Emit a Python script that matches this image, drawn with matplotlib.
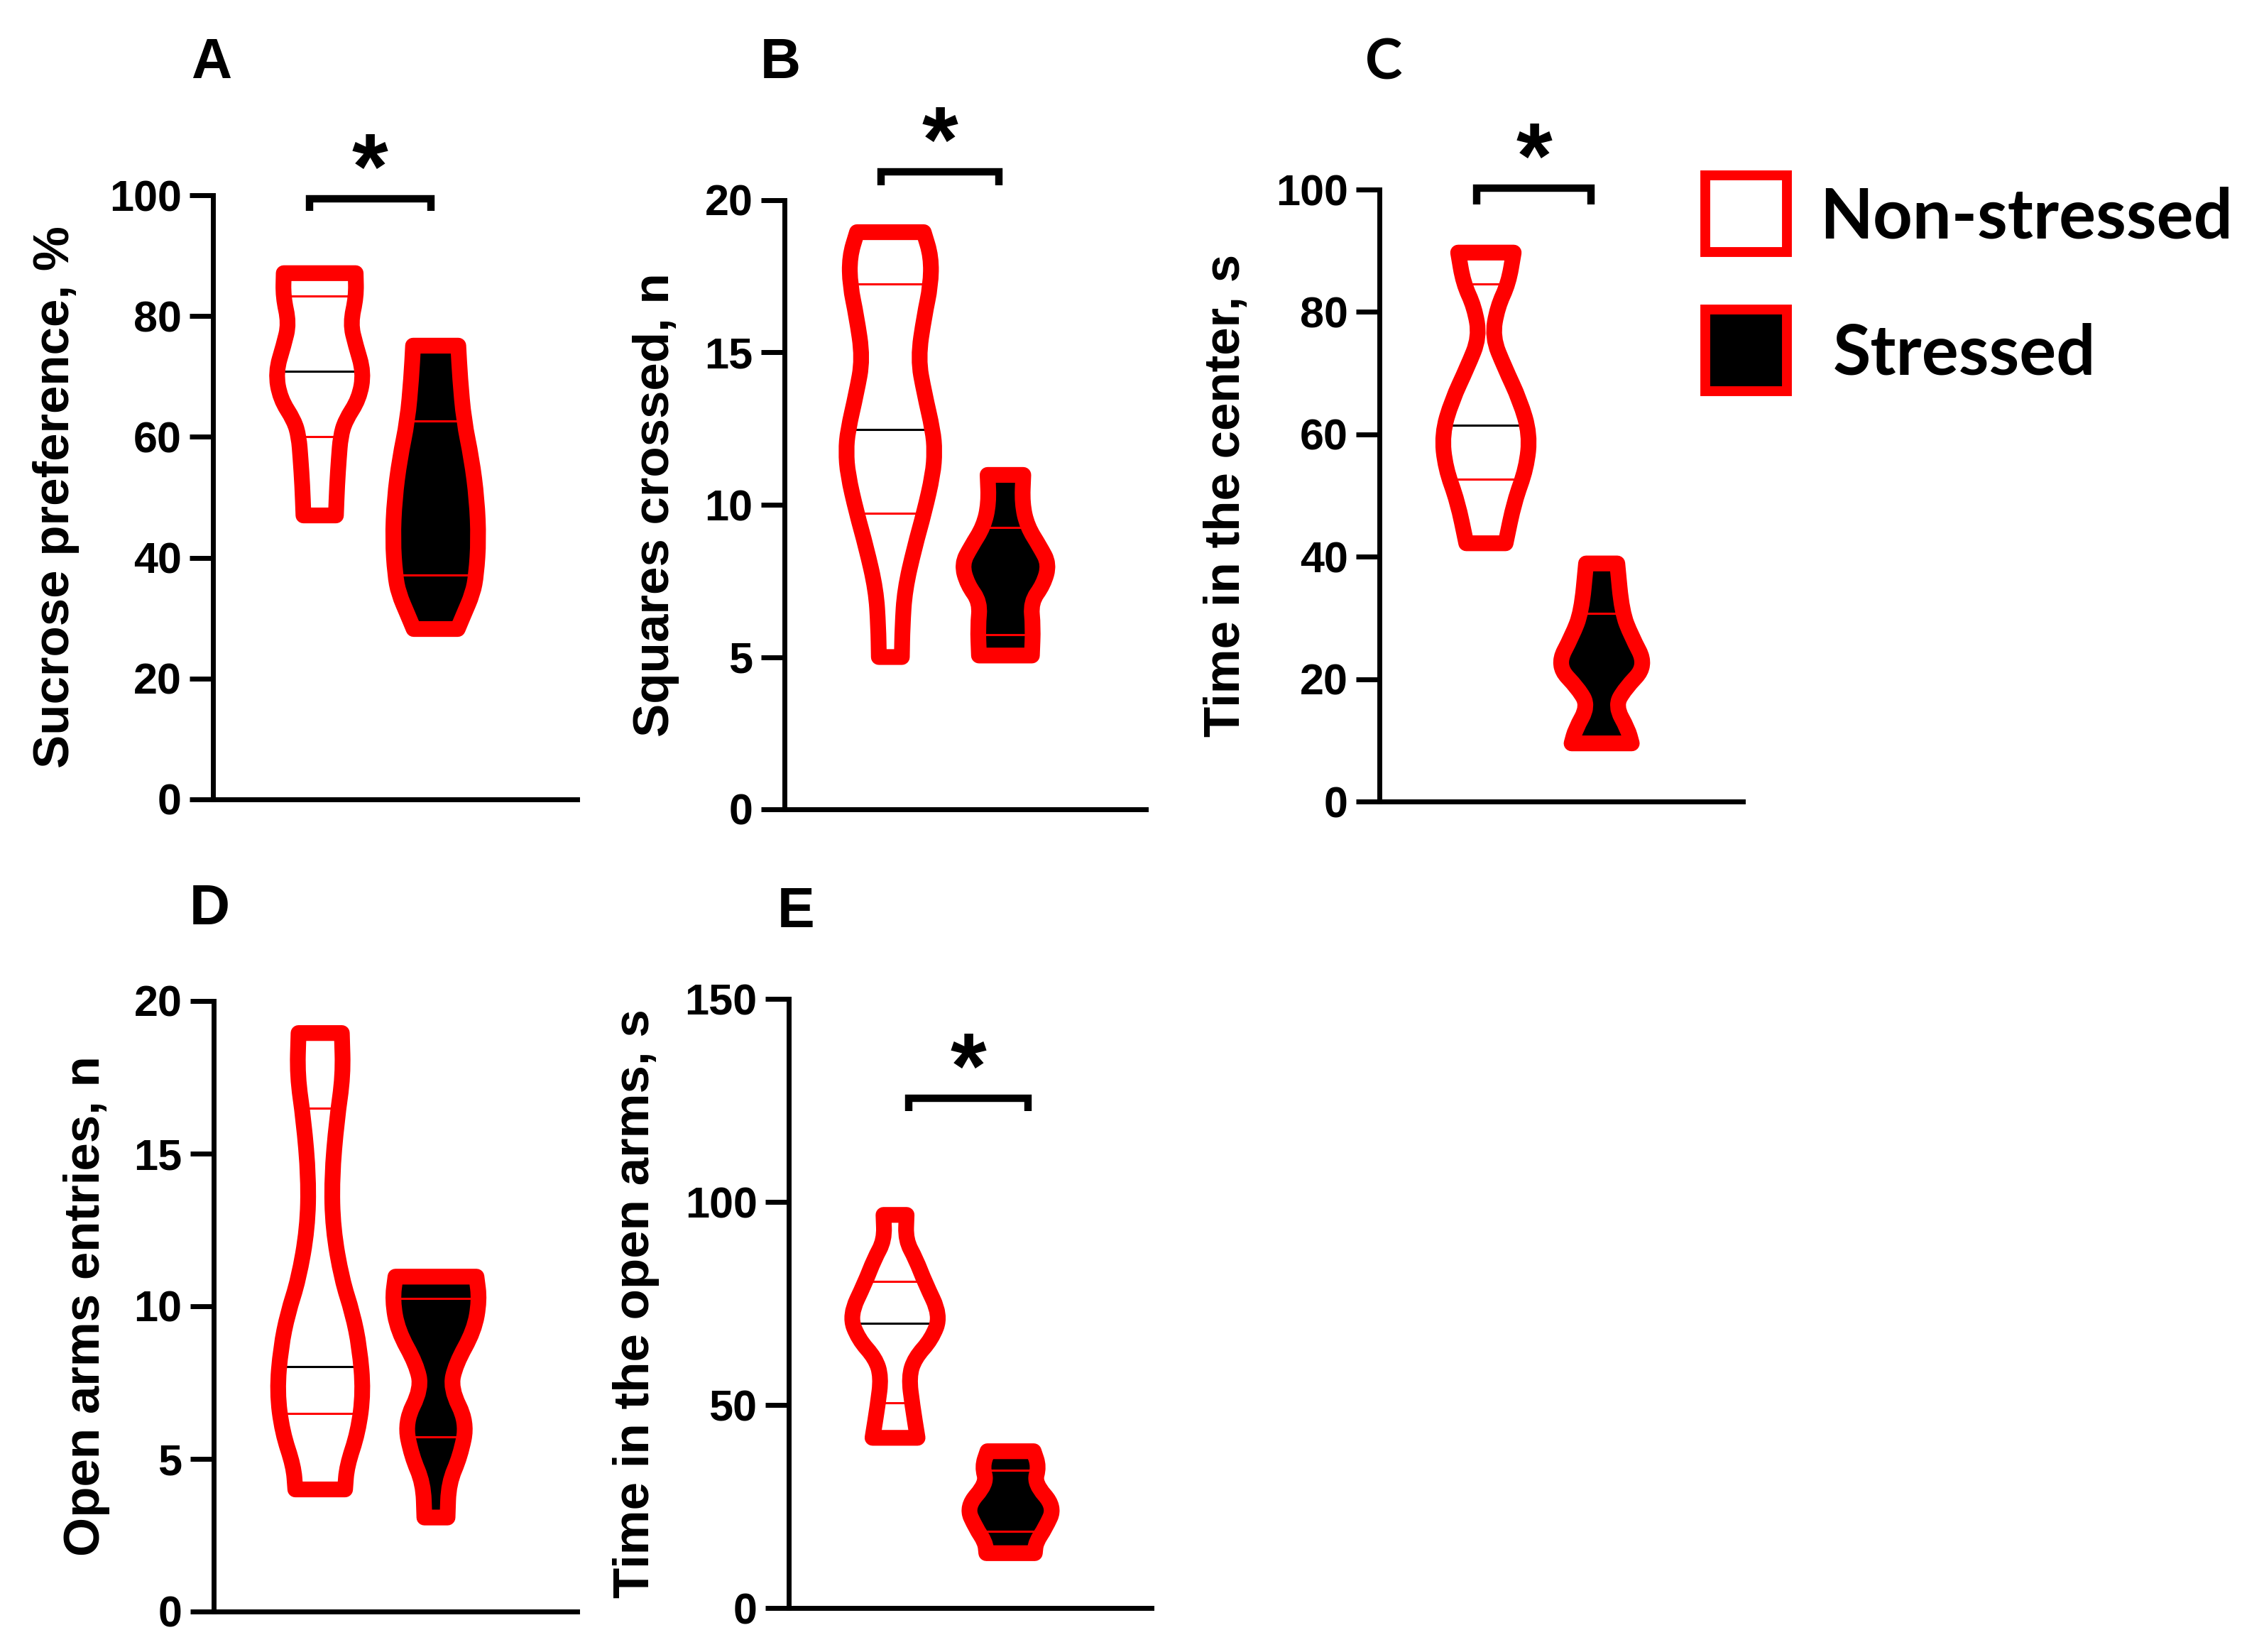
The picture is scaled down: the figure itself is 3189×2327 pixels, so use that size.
import numpy as np
import matplotlib
matplotlib.use("Agg")
import matplotlib.pyplot as plt
from matplotlib.patches import PathPatch, Rectangle
from matplotlib.path import Path

W, H = 3189, 2327
RED = "#ff0000"

# ---- data ----
# violin profiles: value levels (bottom -> top) and half widths (x units)
a_ns_y = [47.0, 52.0, 56.4, 60.0, 62.7, 66.3, 70.7, 75.2, 78.8, 83.2, 87.1]
a_ns_w = [0.14, 0.15, 0.165, 0.18, 0.22, 0.34, 0.38, 0.31, 0.265, 0.315, 0.31]
a_s_y = [28.2, 30.5, 34.1, 37.2, 43.0, 49.7, 56.4, 62.7, 69.8, 75.1]
a_s_w = [0.19, 0.24, 0.32, 0.35, 0.37, 0.355, 0.31, 0.243, 0.21, 0.195]

b_ns_y = [5.0, 6.0, 7.2, 8.6, 9.76, 11.0, 11.76, 12.43, 13.67, 14.8, 16.2, 17.2, 18.14, 18.95]
b_ns_w = [0.10, 0.105, 0.125, 0.21, 0.295, 0.37, 0.385, 0.37, 0.295, 0.24, 0.295, 0.35, 0.355, 0.29]
b_s_y = [5.05, 6.0, 6.8, 7.38, 8.05, 8.62, 9.29, 10.05, 10.98]
b_s_w = [0.23, 0.24, 0.22, 0.33, 0.38, 0.30, 0.19, 0.145, 0.155]

c_ns_y = [42.2, 49.0, 54.5, 60.0, 65.5, 71.0, 75.9, 80.8, 84.7, 89.7]
c_ns_w = [0.17, 0.245, 0.35, 0.38, 0.295, 0.16, 0.055, 0.10, 0.195, 0.24]
c_s_y = [9.5, 11.8, 15.6, 18.4, 22.2, 27.1, 31.0, 38.9]
c_s_w = [0.26, 0.227, 0.117, 0.2, 0.39, 0.255, 0.175, 0.135]

d_ns_y = [4.0, 4.76, 5.87, 7.2, 8.65, 9.77, 10.88, 12.55, 14.2, 16.1, 17.56, 18.95]
d_ns_w = [0.215, 0.23, 0.327, 0.373, 0.34, 0.28, 0.187, 0.11, 0.10, 0.143, 0.198, 0.187]
d_s_y = [3.08, 4.2, 5.09, 6.2, 7.3, 8.1, 9.2, 10.2, 10.97]
d_s_w = [0.10, 0.11, 0.21, 0.27, 0.125, 0.17, 0.33, 0.376, 0.35]

e_ns_y = [41.9, 49.9, 56.9, 61.5, 66.2, 72.0, 80.1, 85.9, 90.6, 96.8]
e_ns_w = [0.195, 0.15, 0.12, 0.17, 0.317, 0.395, 0.26, 0.18, 0.092, 0.10]
e_s_y = [13.5, 16.2, 19.65, 24.9, 30.7, 34.8, 38.6]
e_s_w = [0.21, 0.22, 0.30, 0.385, 0.205, 0.245, 0.20]

# quartile lines (lower quartile, median, upper quartile)
a_ns_q = [60.1, 70.9, 83.3]
a_s_q = [37.1, 47.0, 62.6]
b_ns_q = [9.73, 12.48, 17.24]
b_s_q = [5.74, 7.8, 9.26]
c_ns_q = [52.7, 61.5, 84.55]
c_s_q = [None, 21.0, 30.7]
d_ns_q = [6.5, 8.02, 16.5]
d_s_q = [5.73, 7.5, 10.25]
e_ns_q = [50.6, 70.06, 80.4]
e_s_q = [18.8, 24.0, 33.9]

ylabels = ["Sucrose preference, %", "Squares crossed, n", "Time in the center, s",
           "Open arms entries, n", "Time in the open arms, s"]
letters = ["A", "B", "C", "D", "E"]
ymax = [100, 20, 100, 20, 150]
ystep = [20, 5, 20, 5, 50]
# significance brackets: (x left, x right, bar level, drop)
brackets = [(0.91, 1.96, 99.4, 2.0), (0.92, 1.94, 20.93, 0.45), (0.92, 1.91, 100.2, 2.6),
            None, (1.12, 2.15, 125.5, 3.2)]

profiles = [
    ((a_ns_y, a_ns_w, a_ns_q), (a_s_y, a_s_w, a_s_q)),
    ((b_ns_y, b_ns_w, b_ns_q), (b_s_y, b_s_w, b_s_q)),
    ((c_ns_y, c_ns_w, c_ns_q), (c_s_y, c_s_w, c_s_q)),
    ((d_ns_y, d_ns_w, d_ns_q), (d_s_y, d_s_w, d_s_q)),
    ((e_ns_y, e_ns_w, e_ns_q), (e_s_y, e_s_w, e_s_q)),
]

# ---- layout (pixels of the 3189x2327 canvas: left, right, top, bottom) ----
boxes = [(300, 813, 275, 1126), (1105, 1614, 282, 1140), (1943, 2455, 267, 1129),
         (301, 813, 1410, 2270), (1111, 1622, 1407, 2265)]
letter_xy = [(298, 90), (1099, 90), (1949, 90), (295, 1282), (1121, 1286)]
ylabel_x = [79, 924, 1728, 122, 896]

ARIAL = ["Liberation Sans", "DejaVu Sans"]
CALIBRI = ["Lato", "DejaVu Sans"]


def fx(px):
    return px / W


def fy(py):
    return 1 - py / H


def side(pts):
    # smooth run through the profile points, ends kept exact
    verts = [pts[0]]
    codes = [Path.LINETO]
    if len(pts) > 2:
        verts.append((pts[0] + pts[1]) / 2)
        codes.append(Path.LINETO)
        for k in range(1, len(pts) - 1):
            verts += [pts[k], (pts[k] + pts[k + 1]) / 2]
            codes += [Path.CURVE3, Path.CURVE3]
    verts.append(pts[-1])
    codes.append(Path.LINETO)
    return verts, codes


def violin(ax, pos, ys, hw, face, quart, qcols):
    ys = np.asarray(ys)
    hw = np.asarray(hw)
    right = np.column_stack([pos + hw, ys])
    left = np.column_stack([pos - hw, ys])[::-1]
    v1, c1 = side(right)
    v2, c2 = side(left)
    verts = v1 + v2 + [right[0]]
    codes = [Path.MOVETO] + c1[1:] + c2 + [Path.CLOSEPOLY]
    path = Path(verts, codes)
    ax.add_patch(PathPatch(path, fc=face, lw=0, zorder=2, clip_on=False))
    for val, col in zip(quart, qcols):
        if val is None:
            continue
        w = np.interp(val, ys, hw)
        ax.plot([pos - w, pos + w], [val, val], color=col, lw=2.2, zorder=3,
                solid_capstyle="butt", clip_on=False)
    ax.add_patch(PathPatch(path, fill=False, ec=RED, lw=16, joinstyle="round",
                           zorder=4, clip_on=False))


fig = plt.figure(figsize=(W / 100, H / 100), dpi=100)

for i in range(5):
    l, r, t, b = boxes[i]
    ax = fig.add_axes([fx(l), fy(b), (r - l) / W, (b - t) / H])
    ax.set_xlim(0.08, 3.22)
    ax.set_ylim(0, ymax[i])
    for s in ["top", "right"]:
        ax.spines[s].set_visible(False)
    for s in ["left", "bottom"]:
        ax.spines[s].set_linewidth(5)
    ax.set_xticks([])
    ax.set_yticks(np.arange(0, ymax[i] + 1, ystep[i]))
    ax.tick_params(axis="y", length=24, width=5, pad=8)
    for lab in ax.get_yticklabels():
        lab.set_fontfamily(ARIAL)
        lab.set_fontweight("bold")
        lab.set_fontsize(44)

    ns, st = profiles[i]
    violin(ax, 1, ns[0], ns[1], "white", ns[2], [RED, "black", RED])
    violin(ax, 2, st[0], st[1], "black", st[2], [RED, "black", RED])

    br = brackets[i]
    if br is not None:
        x0, x1, yb, d = br
        ax.plot([x0, x0, x1, x1], [yb - d, yb, yb, yb - d], color="black", lw=7.5,
                solid_joinstyle="miter", solid_capstyle="butt", clip_on=False, zorder=5)
        ax.annotate("*", xy=((x0 + x1) / 2, yb), xytext=(0, -19), textcoords="offset points",
                    ha="center", va="bottom", fontsize=94, fontweight="bold",
                    family=ARIAL, annotation_clip=False)

    fig.text(fx(ylabel_x[i]), fy((t + b) / 2), ylabels[i], rotation=90, ha="center",
             va="center", fontsize=51, fontweight="bold", family=ARIAL)
    lx, ly = letter_xy[i]
    fig.text(fx(lx), fy(ly), letters[i], ha="center", va="center", fontsize=57,
             fontweight="bold", family=CALIBRI if letters[i] == "C" else ARIAL)

# legend
fig.add_artist(Rectangle((fx(2402), fy(355)), 115 / W, 108 / H, transform=fig.transFigure,
                         fc="white", ec=RED, lw=10))
fig.add_artist(Rectangle((fx(2402), fy(551)), 115 / W, 115 / H, transform=fig.transFigure,
                         fc="black", ec=RED, lw=10))
fig.text(fx(2563), fy(335), "Non-stressed", ha="left", va="baseline", fontsize=70,
         fontweight="bold", family=CALIBRI)
fig.text(fx(2582), fy(527), "Stressed", ha="left", va="baseline", fontsize=70,
         fontweight="bold", family=CALIBRI)

fig.savefig("out.png", dpi=100, facecolor="white")
